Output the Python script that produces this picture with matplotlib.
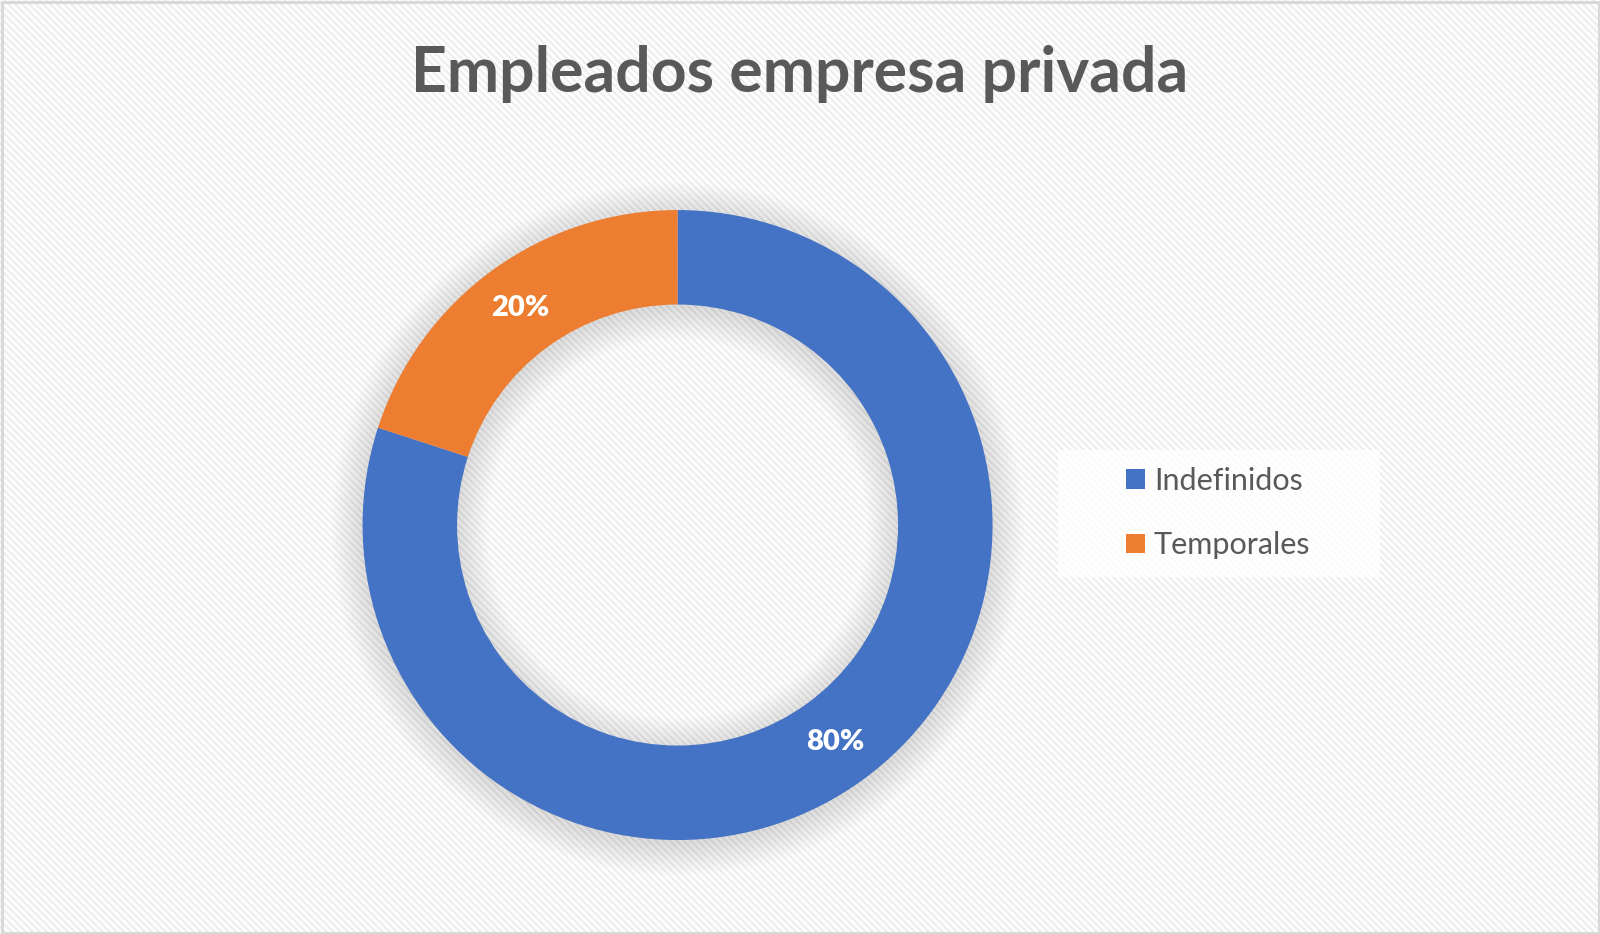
import numpy as np
import matplotlib.pyplot as plt
from matplotlib.patches import Wedge, Rectangle, Patch

######Chart data######
categories = ['Indefinidos', 'Temporales']
shares = [80, 20]
colors = ['#4472C4', '#ED7D31']
title = 'Empleados empresa privada'

text_gray = '#595959'
plt.rcParams['font.family'] = ['Lato', 'DejaVu Sans']

W, H = 1600, 934
fig = plt.figure(figsize=(W / 100, H / 100), dpi=100)
fig.patch.set_facecolor('white')

######Background with diagonal stripes######
bg = fig.add_axes([0, 0, 1, 1])
bg.set_xlim(0, W)
bg.set_ylim(0, H)
bg.axis('off')
for c in np.arange(0, W + H, 7):
    bg.plot([c - H, c], [H, 0], color='#efefef', lw=1.7, solid_capstyle='butt')
bg.add_patch(Rectangle((1.5, 1.5), W - 3, H - 3, fill=False, ec='#d9d9d9',
                       lw=2.2, zorder=3))

######Legend box######
bg.add_patch(Rectangle((1058, H - 577), 322, 127, fc='white', ec='none',
                       alpha=0.8, zorder=3))

######Donut######
ax = fig.add_axes([0.2266, 0.1006, 0.39375, 0.6745])
ax.set_xlim(-1, 1)
ax.set_ylim(-1, 1)
ax.axis('off')

ring_w = 0.30
# soft shadow
for d in np.linspace(0.0, 0.1, 16):
    ax.add_patch(Wedge((0, -0.012), 1 + d, 0, 360, width=ring_w + 2 * d,
                       fc='black', ec='none', alpha=0.009, clip_on=False))

wedges, texts, autotexts = ax.pie(
    shares, colors=colors, startangle=90, counterclock=False,
    radius=1, wedgeprops=dict(width=ring_w, edgecolor='none'),
    autopct='%d%%', pctdistance=0.85)
for t in autotexts:
    t.set_color('white')
    t.set_fontsize(21)
    t.set_fontweight('heavy')
ax.set_xlim(-1, 1)
ax.set_ylim(-1, 1)

######Title######
fig.text(0.5, 1 - 74 / H, title, ha='center', va='center', fontsize=45,
         fontweight='bold', color=text_gray)

######Legend######
handles = [Patch(facecolor=col, edgecolor='none') for col in colors]
fig.legend(handles, categories, loc='center left',
           bbox_to_anchor=(1111 / W, (H - 513) / H), frameon=False,
           fontsize=22, labelcolor=text_gray, handlelength=0.62,
           handleheight=0.62, handletextpad=0.28, labelspacing=1.2,
           borderpad=0)

fig.savefig('out.png', dpi=100)
